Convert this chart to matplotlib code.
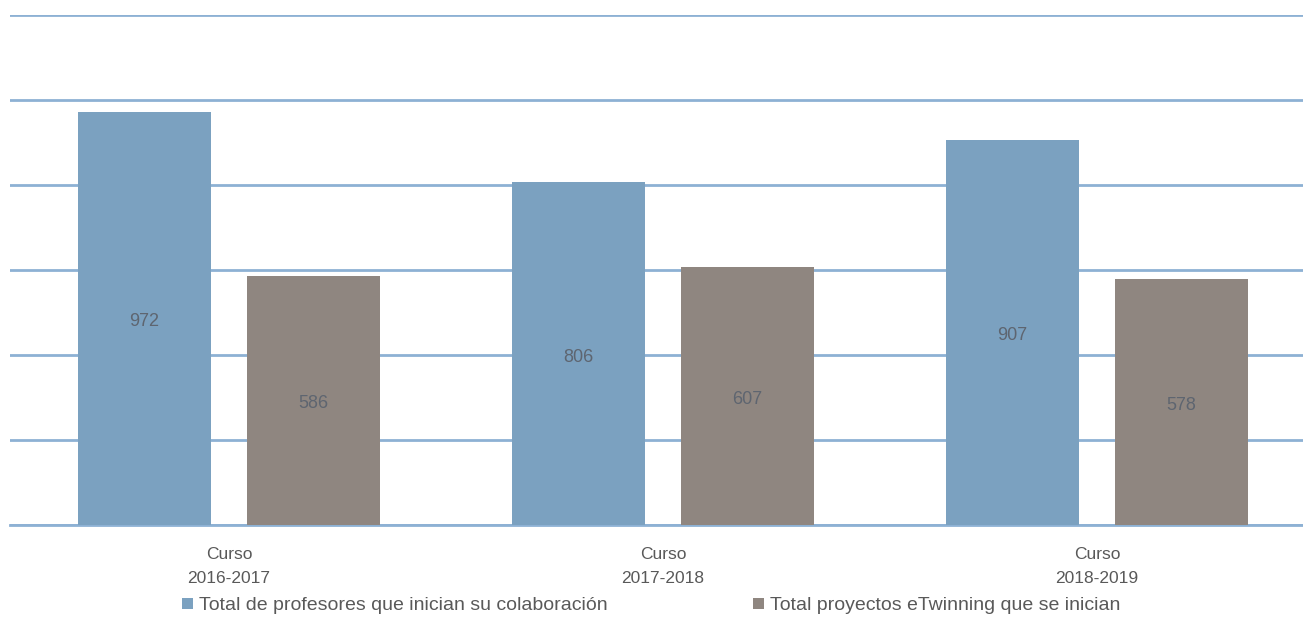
import numpy as np
import matplotlib
matplotlib.use("Agg")
import matplotlib.pyplot as plt
from matplotlib.patches import Patch

plt.rcParams['font.family'] = ['Liberation Sans', 'DejaVu Sans']

# data
cursos = ["Curso\n2016-2017", "Curso\n2017-2018", "Curso\n2018-2019"]
profesores = [972, 806, 907]
proyectos = [586, 607, 578]
series_names = ["Total de profesores que inician su colaboración",
                "Total proyectos eTwinning que se inician"]

BLUE = "#7ba1c0"
GRAY = "#8f8680"
GRID = "#8db1d4"
TEXT = "#595959"

fig = plt.figure(figsize=(13.03, 6.41), dpi=100)
ax = fig.add_axes([10 / 1303, 1 - 525 / 641, 1293 / 1303, 510 / 641])

x = np.arange(len(cursos))
w = 0.306
off = 0.195
b1 = ax.bar(x - off, profesores, w, color=BLUE, zorder=3)
b2 = ax.bar(x + off, proyectos, w, color=GRAY, zorder=3)

for bars, vals in [(b1, profesores), (b2, proyectos)]:
    for r, v in zip(bars, vals):
        ax.text(r.get_x() + r.get_width() / 2, v / 2 - 8, str(v), ha="center", va="center",
                fontsize=13, color="#5e6570", zorder=4)

ax.set_ylim(0, 1200)
ax.set_xlim(-0.505, 2.475)
ax.set_yticks(np.arange(0, 1201, 200))
ax.yaxis.grid(True, color=GRID, linewidth=2, zorder=0)
ax.set_yticklabels([])
ax.tick_params(axis="y", length=0)
ax.tick_params(axis="x", length=0, pad=16)
ax.set_xticks(x)
ax.set_xticklabels(cursos, fontsize=12.5, color=TEXT, linespacing=1.75)
for s in ["top", "right", "left"]:
    ax.spines[s].set_visible(False)
ax.spines["bottom"].set_color(GRID)
ax.spines["bottom"].set_linewidth(2)

handles = [Patch(facecolor=BLUE, label=series_names[0]),
           Patch(facecolor=GRAY, label=series_names[1])]
fig.legend(handles=handles, loc="center", bbox_to_anchor=(651 / 1303, 1 - 606 / 641),
           ncol=2, frameon=False, fontsize=14, handlelength=0.55, handleheight=0.55,
           handletextpad=0.3, columnspacing=7.5, labelcolor=TEXT)

fig.savefig("out.png", dpi=100)
